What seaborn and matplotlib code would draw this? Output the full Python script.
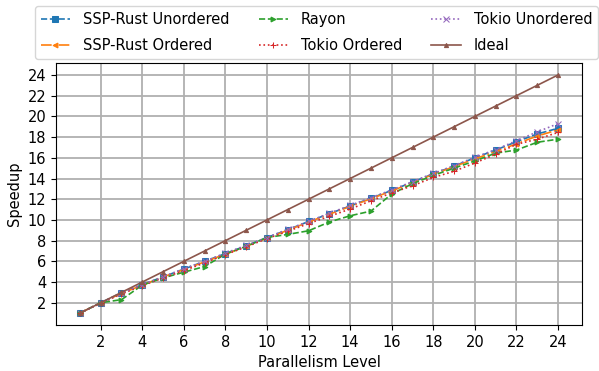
import numpy as np
import pandas as pd
import seaborn as sns
import matplotlib.pyplot as plt

levels = list(range(1, 25))

ssp_unordered = [1.0, 2.0, 2.95, 3.75, 4.5, 5.25, 6.0, 6.75, 7.5, 8.3, 9.05, 9.85,
                 10.6, 11.35, 12.1, 12.85, 13.65, 14.45, 15.2, 16.0, 16.75, 17.55, 18.3, 18.85]
ssp_ordered = [1.0, 2.0, 2.9, 3.7, 4.5, 5.2, 5.95, 6.7, 7.45, 8.25, 9.0, 9.8,
               10.55, 11.3, 12.05, 12.8, 13.6, 14.4, 15.15, 15.9, 16.6, 17.35, 18.1, 18.7]
rayon = [1.0, 2.0, 2.3, 3.7, 4.4, 4.95, 5.5, 6.7, 7.45, 8.3, 8.6, 8.95,
         9.8, 10.4, 10.85, 12.5, 13.5, 14.3, 15.0, 15.7, 16.45, 16.75, 17.5, 17.8]
tokio_ordered = [1.0, 1.95, 2.85, 3.65, 4.4, 5.1, 5.85, 6.65, 7.4, 8.2, 8.9, 9.65,
                 10.35, 11.05, 11.85, 12.6, 13.3, 14.1, 14.7, 15.5, 16.35, 17.3, 17.8, 18.45]
tokio_unordered = [1.0, 2.0, 2.95, 3.75, 4.5, 5.3, 6.0, 6.8, 7.55, 8.3, 9.1, 9.85,
                   10.65, 11.4, 12.15, 12.9, 13.7, 14.5, 15.25, 16.05, 16.8, 17.65, 18.5, 19.3]
ideal = [float(v) for v in levels]

series = [
    ("SSP-Rust Unordered", ssp_unordered, "C0", "--", "s", 4.5),
    ("SSP-Rust Ordered", ssp_ordered, "C1", "-.", "<", 3.5),
    ("Rayon", rayon, "C2", "--", ">", 3.5),
    ("Tokio Ordered", tokio_ordered, "C3", ":", "+", 5),
    ("Tokio Unordered", tokio_unordered, "C4", ":", "x", 4),
    ("Ideal", ideal, "C5", "-", "^", 3),
]

plt.rcParams["font.family"] = ["DejaVu Sans"]
plt.rcParams["font.size"] = 10.5

fig = plt.figure(figsize=(5.99, 3.71), dpi=100)
ax = fig.add_axes([0.0935, 0.124, 0.878, 0.706])

for name, vals, col, ls, mk, ms in series:
    df = pd.DataFrame({"Parallelism Level": levels, "Speedup": vals})
    sns.lineplot(data=df, x="Parallelism Level", y="Speedup", ax=ax, color=col,
                 linestyle=ls, marker=mk, markersize=ms, markeredgecolor=col,
                 linewidth=1.2, label=name, legend=False)

ax.set_xticks(np.arange(2, 25, 2))
ax.set_yticks(np.arange(2, 25, 2))
ax.grid(True, color="#b0b0b0", linewidth=1.3)
ax.set_axisbelow(True)
ax.tick_params(labelsize=10.5)

handles, labels = ax.get_legend_handles_labels()
fig.legend(handles, labels, loc="upper left", bbox_to_anchor=(0.058, 0.984),
           borderaxespad=0, ncol=3, fontsize=10.5, frameon=True,
           columnspacing=2.0, handletextpad=0.9, labelspacing=0.75)

fig.savefig("out.png", dpi=100)
